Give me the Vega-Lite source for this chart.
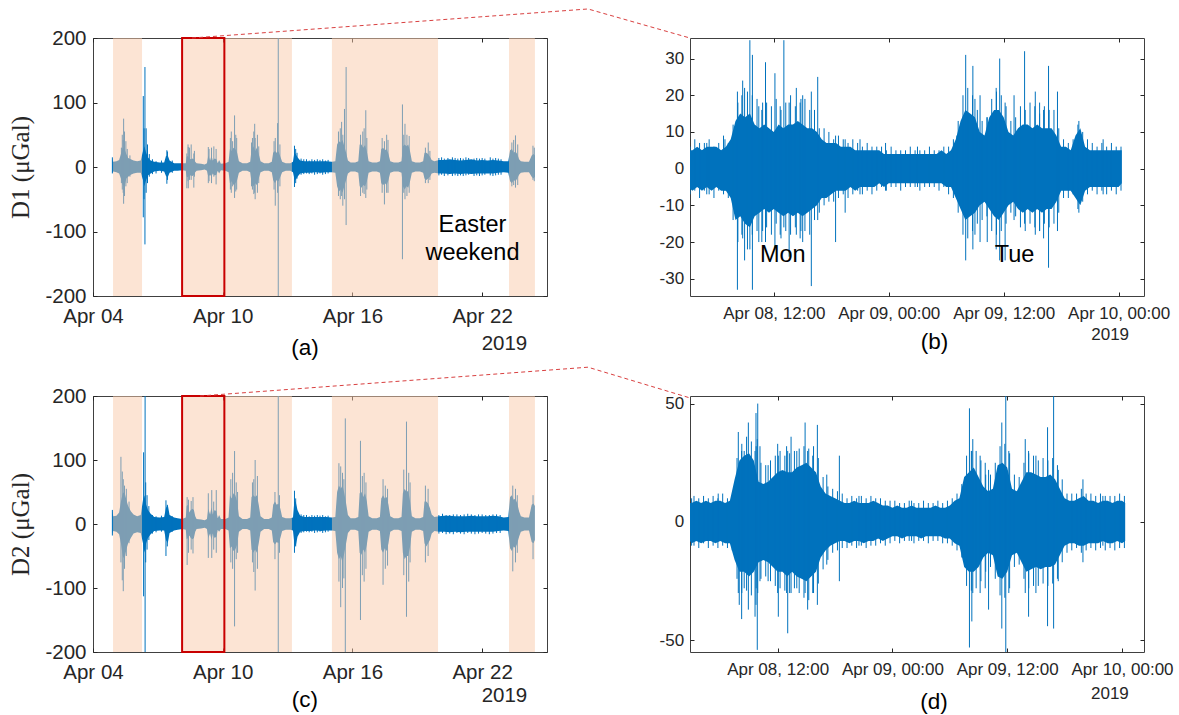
{
"$schema": "https://vega.github.io/schema/vega-lite/v6.json",
"padding": {"left": 8, "top": 6, "right": 5, "bottom": 5},
"background": "white",
"columns": 2,
"spacing": {"row": 100, "column": 143},
"bounds": "flush",
"config": {
  "view": {"stroke": "#404040", "strokeWidth": 1},
  "axis": {"domain": false, "grid": false, "ticks": true, "tickSize": -4, "tickColor": "#262626", "tickWidth": 1, "labelColor": "#262626", "labelFont": "Liberation Sans", "labelFlush": false, "labelOverlap": false, "labelBound": false, "titleColor": "#262626"},
  "text": {"font": "Liberation Sans"}
},
"datasets": {
  "wk": [
    {"t":"2019-04-04T21:20Z","a0":-9,"a1":13,"c0":-16,"c1":21},
    {"t":"2019-04-04T22:30Z","a0":-7,"a1":8,"c0":-11,"c1":12},
    {"t":"2019-04-05T02:00Z","a0":-8,"a1":9,"c0":-12,"c1":13},
    {"t":"2019-04-05T05:00Z","a0":-10,"a1":11,"c0":-16,"c1":18},
    {"t":"2019-04-05T07:00Z","a0":-18,"a1":20,"c0":-30,"c1":35},
    {"t":"2019-04-05T09:00Z","a0":-28,"a1":30,"c0":-50,"c1":48},
    {"t":"2019-04-05T11:00Z","a0":-30,"a1":28,"c0":-55,"c1":50},
    {"t":"2019-04-05T13:00Z","a0":-18,"a1":20,"c0":-40,"c1":38},
    {"t":"2019-04-05T15:00Z","a0":-15,"a1":14,"c0":-30,"c1":28},
    {"t":"2019-04-05T18:00Z","a0":-12,"a1":12,"c0":-22,"c1":20},
    {"t":"2019-04-05T21:00Z","a0":-10,"a1":10,"c0":-15,"c1":15},
    {"t":"2019-04-06T01:00Z","a0":-9,"a1":9,"c0":-13,"c1":12},
    {"t":"2019-04-06T05:00Z","a0":-9,"a1":10,"c0":-14,"c1":14},
    {"t":"2019-04-06T07:30Z","a0":-20,"a1":25,"c0":-30,"c1":38},
    {"t":"2019-04-06T09:00Z","a0":-30,"a1":32,"c0":-45,"c1":45},
    {"t":"2019-04-06T11:00Z","a0":-20,"a1":22,"c0":-30,"c1":30},
    {"t":"2019-04-06T13:00Z","a0":-13,"a1":15,"c0":-22,"c1":22},
    {"t":"2019-04-06T16:00Z","a0":-10,"a1":10,"c0":-16,"c1":16},
    {"t":"2019-04-06T20:00Z","a0":-7,"a1":8,"c0":-11,"c1":11},
    {"t":"2019-04-07T02:00Z","a0":-6,"a1":7,"c0":-10,"c1":10},
    {"t":"2019-04-07T07:00Z","a0":-7,"a1":7,"c0":-10,"c1":11},
    {"t":"2019-04-07T09:00Z","a0":-14,"a1":17,"c0":-25,"c1":25},
    {"t":"2019-04-07T11:00Z","a0":-16,"a1":18,"c0":-30,"c1":30},
    {"t":"2019-04-07T13:00Z","a0":-9,"a1":10,"c0":-14,"c1":14},
    {"t":"2019-04-07T18:00Z","a0":-6,"a1":6,"c0":-10,"c1":10},
    {"t":"2019-04-07T22:00Z","a0":-6,"a1":6,"c0":-9,"c1":9},
    {"t":"2019-04-08T03:00Z","a0":-5,"a1":6,"c0":-8,"c1":8},
    {"t":"2019-04-08T07:00Z","a0":-6,"a1":6,"c0":-9,"c1":10},
    {"t":"2019-04-08T08:00Z","a0":-15,"a1":16,"c0":-24,"c1":28},
    {"t":"2019-04-08T09:30Z","a0":-16,"a1":17,"c0":-22,"c1":30},
    {"t":"2019-04-08T11:00Z","a0":-13,"a1":13,"c0":-18,"c1":18},
    {"t":"2019-04-08T12:30Z","a0":-13,"a1":12,"c0":-22,"c1":22},
    {"t":"2019-04-08T14:30Z","a0":-14,"a1":13,"c0":-24,"c1":24},
    {"t":"2019-04-08T16:00Z","a0":-12,"a1":12,"c0":-22,"c1":22},
    {"t":"2019-04-08T17:30Z","a0":-8,"a1":8,"c0":-12,"c1":12},
    {"t":"2019-04-08T19:00Z","a0":-6,"a1":6,"c0":-8,"c1":8},
    {"t":"2019-04-09T00:00Z","a0":-5,"a1":5,"c0":-7,"c1":7},
    {"t":"2019-04-09T04:00Z","a0":-4,"a1":4,"c0":-6,"c1":6},
    {"t":"2019-04-09T06:30Z","a0":-6,"a1":6,"c0":-8,"c1":8},
    {"t":"2019-04-09T08:00Z","a0":-15,"a1":18,"c0":-22,"c1":24},
    {"t":"2019-04-09T10:00Z","a0":-12,"a1":10,"c0":-15,"c1":15},
    {"t":"2019-04-09T11:30Z","a0":-15,"a1":18,"c0":-25,"c1":26},
    {"t":"2019-04-09T13:00Z","a0":-10,"a1":10,"c0":-15,"c1":15},
    {"t":"2019-04-09T15:00Z","a0":-13,"a1":13,"c0":-22,"c1":22},
    {"t":"2019-04-09T17:00Z","a0":-12,"a1":12,"c0":-20,"c1":20},
    {"t":"2019-04-09T18:30Z","a0":-6,"a1":6,"c0":-9,"c1":9},
    {"t":"2019-04-09T20:00Z","a0":-10,"a1":11,"c0":-12,"c1":14},
    {"t":"2019-04-09T22:00Z","a0":-5,"a1":5,"c0":-8,"c1":8},
    {"t":"2019-04-10T03:00Z","a0":-6,"a1":6,"c0":-8,"c1":8},
    {"t":"2019-04-10T06:30Z","a0":-8,"a1":8,"c0":-10,"c1":10},
    {"t":"2019-04-10T08:00Z","a0":-25,"a1":28,"c0":-38,"c1":45},
    {"t":"2019-04-10T10:00Z","a0":-22,"a1":25,"c0":-35,"c1":40},
    {"t":"2019-04-10T12:00Z","a0":-28,"a1":30,"c0":-42,"c1":48},
    {"t":"2019-04-10T14:00Z","a0":-25,"a1":28,"c0":-40,"c1":45},
    {"t":"2019-04-10T16:00Z","a0":-20,"a1":22,"c0":-32,"c1":35},
    {"t":"2019-04-10T18:00Z","a0":-9,"a1":9,"c0":-12,"c1":12},
    {"t":"2019-04-10T22:00Z","a0":-6,"a1":6,"c0":-8,"c1":8},
    {"t":"2019-04-11T03:00Z","a0":-6,"a1":6,"c0":-8,"c1":8},
    {"t":"2019-04-11T06:30Z","a0":-8,"a1":8,"c0":-10,"c1":10},
    {"t":"2019-04-11T08:00Z","a0":-25,"a1":27,"c0":-40,"c1":42},
    {"t":"2019-04-11T10:00Z","a0":-30,"a1":32,"c0":-45,"c1":45},
    {"t":"2019-04-11T12:00Z","a0":-25,"a1":25,"c0":-40,"c1":42},
    {"t":"2019-04-11T14:00Z","a0":-28,"a1":30,"c0":-45,"c1":45},
    {"t":"2019-04-11T16:00Z","a0":-18,"a1":20,"c0":-30,"c1":30},
    {"t":"2019-04-11T18:00Z","a0":-8,"a1":9,"c0":-12,"c1":12},
    {"t":"2019-04-11T22:00Z","a0":-6,"a1":6,"c0":-8,"c1":8},
    {"t":"2019-04-12T03:00Z","a0":-6,"a1":6,"c0":-8,"c1":8},
    {"t":"2019-04-12T06:30Z","a0":-8,"a1":8,"c0":-10,"c1":10},
    {"t":"2019-04-12T08:00Z","a0":-20,"a1":22,"c0":-28,"c1":30},
    {"t":"2019-04-12T10:00Z","a0":-25,"a1":25,"c0":-32,"c1":35},
    {"t":"2019-04-12T12:00Z","a0":-20,"a1":22,"c0":-28,"c1":30},
    {"t":"2019-04-12T14:00Z","a0":-22,"a1":24,"c0":-30,"c1":32},
    {"t":"2019-04-12T16:00Z","a0":-15,"a1":16,"c0":-22,"c1":24},
    {"t":"2019-04-12T18:00Z","a0":-8,"a1":8,"c0":-11,"c1":11},
    {"t":"2019-04-12T22:00Z","a0":-6,"a1":6,"c0":-9,"c1":9},
    {"t":"2019-04-13T03:00Z","a0":-6,"a1":6,"c0":-9,"c1":9},
    {"t":"2019-04-13T06:00Z","a0":-8,"a1":8,"c0":-10,"c1":10},
    {"t":"2019-04-13T07:30Z","a0":-18,"a1":22,"c0":-30,"c1":35},
    {"t":"2019-04-13T09:00Z","a0":-20,"a1":20,"c0":-35,"c1":35},
    {"t":"2019-04-13T11:00Z","a0":-15,"a1":15,"c0":-20,"c1":22},
    {"t":"2019-04-13T14:00Z","a0":-10,"a1":10,"c0":-12,"c1":13},
    {"t":"2019-04-13T19:00Z","a0":-9,"a1":9,"c0":-11,"c1":11},
    {"t":"2019-04-14T01:00Z","a0":-9,"a1":9,"c0":-11,"c1":11},
    {"t":"2019-04-14T07:00Z","a0":-8,"a1":9,"c0":-10,"c1":11},
    {"t":"2019-04-14T13:00Z","a0":-9,"a1":9,"c0":-11,"c1":11},
    {"t":"2019-04-14T19:00Z","a0":-8,"a1":9,"c0":-10,"c1":11},
    {"t":"2019-04-15T01:00Z","a0":-8,"a1":8,"c0":-10,"c1":10},
    {"t":"2019-04-15T05:00Z","a0":-9,"a1":9,"c0":-11,"c1":11},
    {"t":"2019-04-15T07:00Z","a0":-30,"a1":35,"c0":-45,"c1":50},
    {"t":"2019-04-15T09:00Z","a0":-38,"a1":40,"c0":-55,"c1":60},
    {"t":"2019-04-15T11:00Z","a0":-35,"a1":38,"c0":-50,"c1":55},
    {"t":"2019-04-15T13:00Z","a0":-40,"a1":42,"c0":-60,"c1":60},
    {"t":"2019-04-15T15:00Z","a0":-30,"a1":32,"c0":-45,"c1":48},
    {"t":"2019-04-15T17:00Z","a0":-20,"a1":22,"c0":-30,"c1":32},
    {"t":"2019-04-15T19:00Z","a0":-10,"a1":10,"c0":-14,"c1":14},
    {"t":"2019-04-15T22:00Z","a0":-7,"a1":7,"c0":-9,"c1":9},
    {"t":"2019-04-16T03:00Z","a0":-7,"a1":7,"c0":-9,"c1":9},
    {"t":"2019-04-16T06:30Z","a0":-9,"a1":9,"c0":-11,"c1":11},
    {"t":"2019-04-16T08:00Z","a0":-30,"a1":35,"c0":-45,"c1":48},
    {"t":"2019-04-16T10:00Z","a0":-32,"a1":35,"c0":-48,"c1":50},
    {"t":"2019-04-16T12:00Z","a0":-28,"a1":30,"c0":-40,"c1":42},
    {"t":"2019-04-16T14:00Z","a0":-30,"a1":34,"c0":-45,"c1":48},
    {"t":"2019-04-16T16:00Z","a0":-22,"a1":24,"c0":-32,"c1":35},
    {"t":"2019-04-16T18:00Z","a0":-9,"a1":9,"c0":-12,"c1":12},
    {"t":"2019-04-16T22:00Z","a0":-7,"a1":7,"c0":-9,"c1":9},
    {"t":"2019-04-17T03:00Z","a0":-7,"a1":7,"c0":-9,"c1":9},
    {"t":"2019-04-17T06:30Z","a0":-9,"a1":9,"c0":-11,"c1":11},
    {"t":"2019-04-17T08:00Z","a0":-25,"a1":28,"c0":-40,"c1":40},
    {"t":"2019-04-17T10:00Z","a0":-28,"a1":30,"c0":-45,"c1":45},
    {"t":"2019-04-17T12:00Z","a0":-25,"a1":26,"c0":-38,"c1":40},
    {"t":"2019-04-17T14:00Z","a0":-28,"a1":28,"c0":-42,"c1":42},
    {"t":"2019-04-17T16:00Z","a0":-20,"a1":20,"c0":-30,"c1":30},
    {"t":"2019-04-17T18:00Z","a0":-9,"a1":9,"c0":-12,"c1":12},
    {"t":"2019-04-17T22:00Z","a0":-7,"a1":7,"c0":-9,"c1":9},
    {"t":"2019-04-18T03:00Z","a0":-7,"a1":7,"c0":-9,"c1":9},
    {"t":"2019-04-18T06:30Z","a0":-9,"a1":9,"c0":-11,"c1":11},
    {"t":"2019-04-18T08:00Z","a0":-30,"a1":32,"c0":-45,"c1":48},
    {"t":"2019-04-18T10:00Z","a0":-35,"a1":35,"c0":-55,"c1":55},
    {"t":"2019-04-18T12:00Z","a0":-30,"a1":32,"c0":-50,"c1":50},
    {"t":"2019-04-18T14:00Z","a0":-32,"a1":35,"c0":-50,"c1":52},
    {"t":"2019-04-18T16:00Z","a0":-22,"a1":24,"c0":-35,"c1":35},
    {"t":"2019-04-18T18:00Z","a0":-9,"a1":9,"c0":-12,"c1":12},
    {"t":"2019-04-18T22:00Z","a0":-7,"a1":7,"c0":-9,"c1":9},
    {"t":"2019-04-19T03:00Z","a0":-7,"a1":7,"c0":-9,"c1":9},
    {"t":"2019-04-19T06:30Z","a0":-9,"a1":9,"c0":-11,"c1":11},
    {"t":"2019-04-19T08:00Z","a0":-18,"a1":22,"c0":-30,"c1":35},
    {"t":"2019-04-19T10:00Z","a0":-20,"a1":22,"c0":-35,"c1":35},
    {"t":"2019-04-19T12:00Z","a0":-18,"a1":20,"c0":-30,"c1":32},
    {"t":"2019-04-19T14:00Z","a0":-15,"a1":16,"c0":-25,"c1":25},
    {"t":"2019-04-19T16:00Z","a0":-10,"a1":11,"c0":-15,"c1":15},
    {"t":"2019-04-19T19:00Z","a0":-9,"a1":9,"c0":-11,"c1":11},
    {"t":"2019-04-20T00:00Z","a0":-10,"a1":11,"c0":-12,"c1":12},
    {"t":"2019-04-20T06:00Z","a0":-10,"a1":11,"c0":-12,"c1":13},
    {"t":"2019-04-20T12:00Z","a0":-11,"a1":12,"c0":-13,"c1":13},
    {"t":"2019-04-20T18:00Z","a0":-10,"a1":11,"c0":-12,"c1":12},
    {"t":"2019-04-21T00:00Z","a0":-11,"a1":10,"c0":-13,"c1":12},
    {"t":"2019-04-21T06:00Z","a0":-10,"a1":11,"c0":-12,"c1":12},
    {"t":"2019-04-21T12:00Z","a0":-11,"a1":12,"c0":-12,"c1":13},
    {"t":"2019-04-21T18:00Z","a0":-10,"a1":10,"c0":-12,"c1":12},
    {"t":"2019-04-22T00:00Z","a0":-10,"a1":11,"c0":-12,"c1":12},
    {"t":"2019-04-22T06:00Z","a0":-10,"a1":10,"c0":-12,"c1":12},
    {"t":"2019-04-22T12:00Z","a0":-10,"a1":11,"c0":-12,"c1":13},
    {"t":"2019-04-22T18:00Z","a0":-9,"a1":10,"c0":-11,"c1":12},
    {"t":"2019-04-23T00:00Z","a0":-8,"a1":9,"c0":-10,"c1":10},
    {"t":"2019-04-23T05:00Z","a0":-9,"a1":9,"c0":-11,"c1":11},
    {"t":"2019-04-23T07:00Z","a0":-22,"a1":26,"c0":-38,"c1":42},
    {"t":"2019-04-23T09:00Z","a0":-25,"a1":28,"c0":-42,"c1":45},
    {"t":"2019-04-23T11:00Z","a0":-20,"a1":22,"c0":-35,"c1":38},
    {"t":"2019-04-23T13:00Z","a0":-22,"a1":24,"c0":-38,"c1":40},
    {"t":"2019-04-23T15:00Z","a0":-18,"a1":20,"c0":-30,"c1":32},
    {"t":"2019-04-23T17:00Z","a0":-12,"a1":12,"c0":-20,"c1":20},
    {"t":"2019-04-23T19:00Z","a0":-9,"a1":9,"c0":-12,"c1":12},
    {"t":"2019-04-23T23:00Z","a0":-8,"a1":8,"c0":-10,"c1":10},
    {"t":"2019-04-24T04:00Z","a0":-8,"a1":8,"c0":-10,"c1":10},
    {"t":"2019-04-24T07:00Z","a0":-15,"a1":18,"c0":-28,"c1":30},
    {"t":"2019-04-24T09:00Z","a0":-18,"a1":20,"c0":-30,"c1":32},
    {"t":"2019-04-24T10:30Z","a0":-15,"a1":18,"c0":-25,"c1":28}
  ],
  "sp": [
    {"p":"a","t":"2019-04-04T21:30Z","lo":-10,"hi":15},
    {"p":"a","t":"2019-04-05T07:30Z","lo":-25,"hi":30},
    {"p":"a","t":"2019-04-05T08:30Z","lo":-35,"hi":50},
    {"p":"a","t":"2019-04-05T09:30Z","lo":-40,"hi":42},
    {"p":"a","t":"2019-04-05T10:00Z","lo":-57,"hi":75},
    {"p":"a","t":"2019-04-05T11:00Z","lo":-45,"hi":55},
    {"p":"a","t":"2019-04-05T12:30Z","lo":-30,"hi":40},
    {"p":"a","t":"2019-04-05T14:00Z","lo":-25,"hi":28},
    {"p":"a","t":"2019-04-05T17:00Z","lo":-15,"hi":18},
    {"p":"a","t":"2019-04-06T07:50Z","lo":-78,"hi":110},
    {"p":"a","t":"2019-04-06T08:40Z","lo":-50,"hi":60},
    {"p":"a","t":"2019-04-06T09:40Z","lo":-120,"hi":155},
    {"p":"a","t":"2019-04-06T11:00Z","lo":-40,"hi":60},
    {"p":"a","t":"2019-04-06T12:30Z","lo":-25,"hi":35},
    {"p":"a","t":"2019-04-06T14:30Z","lo":-15,"hi":20},
    {"p":"a","t":"2019-04-06T18:00Z","lo":-11,"hi":12},
    {"p":"a","t":"2019-04-06T22:00Z","lo":-10,"hi":9},
    {"p":"a","t":"2019-04-07T04:00Z","lo":-9,"hi":10},
    {"p":"a","t":"2019-04-07T10:00Z","lo":-26,"hi":26},
    {"p":"a","t":"2019-04-07T10:40Z","lo":-20,"hi":24},
    {"p":"a","t":"2019-04-07T16:00Z","lo":-9,"hi":10},
    {"p":"a","t":"2019-04-08T08:10Z","lo":-33,"hi":21},
    {"p":"a","t":"2019-04-08T09:30Z","lo":-22,"hi":35},
    {"p":"a","t":"2019-04-08T09:45Z","lo":-33,"hi":31},
    {"p":"a","t":"2019-04-08T11:10Z","lo":-20,"hi":30},
    {"p":"a","t":"2019-04-08T13:00Z","lo":-20,"hi":35},
    {"p":"a","t":"2019-04-08T15:55Z","lo":-32,"hi":21},
    {"p":"a","t":"2019-04-08T16:35Z","lo":-15,"hi":25},
    {"p":"a","t":"2019-04-09T08:00Z","lo":-25,"hi":31},
    {"p":"a","t":"2019-04-09T08:50Z","lo":-22,"hi":28},
    {"p":"a","t":"2019-04-09T11:35Z","lo":-25,"hi":30},
    {"p":"a","t":"2019-04-09T14:10Z","lo":-15,"hi":32},
    {"p":"a","t":"2019-04-09T16:40Z","lo":-27,"hi":28},
    {"p":"a","t":"2019-04-10T08:30Z","lo":-35,"hi":45},
    {"p":"a","t":"2019-04-10T09:30Z","lo":-40,"hi":55},
    {"p":"a","t":"2019-04-10T11:00Z","lo":-30,"hi":40},
    {"p":"a","t":"2019-04-10T13:10Z","lo":-48,"hi":80},
    {"p":"a","t":"2019-04-10T14:30Z","lo":-38,"hi":50},
    {"p":"a","t":"2019-04-10T15:30Z","lo":-35,"hi":45},
    {"p":"a","t":"2019-04-11T08:00Z","lo":-30,"hi":38},
    {"p":"a","t":"2019-04-11T09:00Z","lo":-35,"hi":45},
    {"p":"a","t":"2019-04-11T10:30Z","lo":-42,"hi":55},
    {"p":"a","t":"2019-04-11T11:30Z","lo":-40,"hi":67},
    {"p":"a","t":"2019-04-11T12:00Z","lo":-50,"hi":45},
    {"p":"a","t":"2019-04-11T14:30Z","lo":-40,"hi":50},
    {"p":"a","t":"2019-04-11T16:00Z","lo":-25,"hi":32},
    {"p":"a","t":"2019-04-12T09:00Z","lo":-35,"hi":40},
    {"p":"a","t":"2019-04-12T10:20Z","lo":-60,"hi":45},
    {"p":"a","t":"2019-04-12T12:55Z","lo":-40,"hi":68},
    {"p":"a","t":"2019-04-12T13:40Z","lo":-220,"hi":220},
    {"p":"a","t":"2019-04-12T15:30Z","lo":-30,"hi":35},
    {"p":"a","t":"2019-04-13T07:40Z","lo":-31,"hi":33},
    {"p":"a","t":"2019-04-13T09:00Z","lo":-25,"hi":28},
    {"p":"a","t":"2019-04-13T10:30Z","lo":-18,"hi":22},
    {"p":"a","t":"2019-04-13T15:00Z","lo":-12,"hi":13},
    {"p":"a","t":"2019-04-13T18:00Z","lo":-11,"hi":12},
    {"p":"a","t":"2019-04-13T21:00Z","lo":-10,"hi":12},
    {"p":"a","t":"2019-04-14T00:00Z","lo":-11,"hi":10},
    {"p":"a","t":"2019-04-14T03:00Z","lo":-10,"hi":12},
    {"p":"a","t":"2019-04-14T06:00Z","lo":-12,"hi":11},
    {"p":"a","t":"2019-04-14T09:00Z","lo":-11,"hi":12},
    {"p":"a","t":"2019-04-14T12:00Z","lo":-10,"hi":11},
    {"p":"a","t":"2019-04-14T15:00Z","lo":-12,"hi":12},
    {"p":"a","t":"2019-04-14T18:00Z","lo":-11,"hi":10},
    {"p":"a","t":"2019-04-14T21:00Z","lo":-10,"hi":11},
    {"p":"a","t":"2019-04-15T08:30Z","lo":-45,"hi":55},
    {"p":"a","t":"2019-04-15T10:30Z","lo":-50,"hi":60},
    {"p":"a","t":"2019-04-15T12:00Z","lo":-45,"hi":70},
    {"p":"a","t":"2019-04-15T13:20Z","lo":-60,"hi":50},
    {"p":"a","t":"2019-04-15T15:10Z","lo":-50,"hi":90},
    {"p":"a","t":"2019-04-15T17:00Z","lo":-90,"hi":155},
    {"p":"a","t":"2019-04-16T09:00Z","lo":-45,"hi":50},
    {"p":"a","t":"2019-04-16T11:30Z","lo":-40,"hi":55},
    {"p":"a","t":"2019-04-16T13:00Z","lo":-42,"hi":60},
    {"p":"a","t":"2019-04-16T14:50Z","lo":-48,"hi":88},
    {"p":"a","t":"2019-04-16T16:00Z","lo":-35,"hi":45},
    {"p":"a","t":"2019-04-17T09:00Z","lo":-40,"hi":45},
    {"p":"a","t":"2019-04-17T11:30Z","lo":-58,"hi":40},
    {"p":"a","t":"2019-04-17T14:00Z","lo":-40,"hi":50},
    {"p":"a","t":"2019-04-17T15:30Z","lo":-40,"hi":42},
    {"p":"a","t":"2019-04-18T07:30Z","lo":-143,"hi":97},
    {"p":"a","t":"2019-04-18T09:00Z","lo":-40,"hi":50},
    {"p":"a","t":"2019-04-18T10:20Z","lo":-50,"hi":67},
    {"p":"a","t":"2019-04-18T12:30Z","lo":-45,"hi":50},
    {"p":"a","t":"2019-04-18T15:00Z","lo":-40,"hi":48},
    {"p":"a","t":"2019-04-19T09:00Z","lo":-25,"hi":30},
    {"p":"a","t":"2019-04-19T12:10Z","lo":-25,"hi":38},
    {"p":"a","t":"2019-04-19T14:00Z","lo":-20,"hi":25},
    {"p":"a","t":"2019-04-20T00:00Z","lo":-13,"hi":14},
    {"p":"a","t":"2019-04-20T03:00Z","lo":-12,"hi":15},
    {"p":"a","t":"2019-04-20T06:00Z","lo":-14,"hi":13},
    {"p":"a","t":"2019-04-20T10:00Z","lo":-13,"hi":14},
    {"p":"a","t":"2019-04-20T15:00Z","lo":-14,"hi":15},
    {"p":"a","t":"2019-04-20T18:00Z","lo":-13,"hi":14},
    {"p":"a","t":"2019-04-20T21:00Z","lo":-14,"hi":13},
    {"p":"a","t":"2019-04-21T00:00Z","lo":-13,"hi":14},
    {"p":"a","t":"2019-04-21T03:00Z","lo":-14,"hi":13},
    {"p":"a","t":"2019-04-21T06:00Z","lo":-13,"hi":15},
    {"p":"a","t":"2019-04-21T09:00Z","lo":-12,"hi":14},
    {"p":"a","t":"2019-04-21T15:00Z","lo":-14,"hi":13},
    {"p":"a","t":"2019-04-21T18:00Z","lo":-13,"hi":14},
    {"p":"a","t":"2019-04-21T21:00Z","lo":-14,"hi":13},
    {"p":"a","t":"2019-04-22T00:00Z","lo":-13,"hi":14},
    {"p":"a","t":"2019-04-22T03:00Z","lo":-12,"hi":13},
    {"p":"a","t":"2019-04-22T09:00Z","lo":-13,"hi":15},
    {"p":"a","t":"2019-04-22T12:00Z","lo":-14,"hi":13},
    {"p":"a","t":"2019-04-22T15:00Z","lo":-13,"hi":14},
    {"p":"a","t":"2019-04-22T18:00Z","lo":-12,"hi":13},
    {"p":"a","t":"2019-04-22T21:00Z","lo":-12,"hi":12},
    {"p":"a","t":"2019-04-23T09:00Z","lo":-30,"hi":38},
    {"p":"a","t":"2019-04-23T11:00Z","lo":-28,"hi":42},
    {"p":"a","t":"2019-04-23T13:00Z","lo":-32,"hi":49},
    {"p":"a","t":"2019-04-23T15:30Z","lo":-28,"hi":35},
    {"p":"a","t":"2019-04-24T08:25Z","lo":-20,"hi":33},
    {"p":"a","t":"2019-04-24T09:50Z","lo":-22,"hi":30},
    {"p":"c","t":"2019-04-04T21:30Z","lo":-18,"hi":22},
    {"p":"c","t":"2019-04-05T07:00Z","lo":-60,"hi":105},
    {"p":"c","t":"2019-04-05T08:30Z","lo":-88,"hi":82},
    {"p":"c","t":"2019-04-05T09:35Z","lo":-105,"hi":70},
    {"p":"c","t":"2019-04-05T11:00Z","lo":-70,"hi":60},
    {"p":"c","t":"2019-04-05T13:00Z","lo":-50,"hi":55},
    {"p":"c","t":"2019-04-05T16:00Z","lo":-30,"hi":35},
    {"p":"c","t":"2019-04-06T08:10Z","lo":-113,"hi":112},
    {"p":"c","t":"2019-04-06T09:50Z","lo":-220,"hi":220},
    {"p":"c","t":"2019-04-06T10:30Z","lo":-60,"hi":65},
    {"p":"c","t":"2019-04-06T12:00Z","lo":-40,"hi":45},
    {"p":"c","t":"2019-04-06T14:00Z","lo":-25,"hi":28},
    {"p":"c","t":"2019-04-06T18:00Z","lo":-15,"hi":14},
    {"p":"c","t":"2019-04-06T22:00Z","lo":-13,"hi":12},
    {"p":"c","t":"2019-04-07T04:00Z","lo":-12,"hi":13},
    {"p":"c","t":"2019-04-07T09:00Z","lo":-50,"hi":37},
    {"p":"c","t":"2019-04-07T10:30Z","lo":-35,"hi":30},
    {"p":"c","t":"2019-04-07T16:00Z","lo":-12,"hi":12},
    {"p":"c","t":"2019-04-08T08:30Z","lo":-64,"hi":42},
    {"p":"c","t":"2019-04-08T10:00Z","lo":-45,"hi":38},
    {"p":"c","t":"2019-04-08T13:00Z","lo":-40,"hi":36},
    {"p":"c","t":"2019-04-08T15:00Z","lo":-46,"hi":42},
    {"p":"c","t":"2019-04-09T08:00Z","lo":-53,"hi":48},
    {"p":"c","t":"2019-04-09T11:50Z","lo":-53,"hi":53},
    {"p":"c","t":"2019-04-09T14:00Z","lo":-40,"hi":35},
    {"p":"c","t":"2019-04-09T16:50Z","lo":-45,"hi":53},
    {"p":"c","t":"2019-04-10T09:00Z","lo":-60,"hi":70},
    {"p":"c","t":"2019-04-10T11:00Z","lo":-70,"hi":80},
    {"p":"c","t":"2019-04-10T13:10Z","lo":-160,"hi":114},
    {"p":"c","t":"2019-04-10T15:00Z","lo":-55,"hi":65},
    {"p":"c","t":"2019-04-10T16:30Z","lo":-45,"hi":50},
    {"p":"c","t":"2019-04-11T09:00Z","lo":-60,"hi":65},
    {"p":"c","t":"2019-04-11T10:30Z","lo":-75,"hi":70},
    {"p":"c","t":"2019-04-11T12:00Z","lo":-104,"hi":100},
    {"p":"c","t":"2019-04-11T14:30Z","lo":-70,"hi":75},
    {"p":"c","t":"2019-04-12T10:00Z","lo":-55,"hi":50},
    {"p":"c","t":"2019-04-12T13:40Z","lo":-220,"hi":220},
    {"p":"c","t":"2019-04-12T15:00Z","lo":-45,"hi":45},
    {"p":"c","t":"2019-04-13T07:40Z","lo":-45,"hi":52},
    {"p":"c","t":"2019-04-13T09:00Z","lo":-35,"hi":40},
    {"p":"c","t":"2019-04-13T15:00Z","lo":-14,"hi":15},
    {"p":"c","t":"2019-04-13T18:00Z","lo":-13,"hi":14},
    {"p":"c","t":"2019-04-13T21:00Z","lo":-12,"hi":14},
    {"p":"c","t":"2019-04-14T00:00Z","lo":-13,"hi":12},
    {"p":"c","t":"2019-04-14T03:00Z","lo":-12,"hi":14},
    {"p":"c","t":"2019-04-14T06:00Z","lo":-14,"hi":13},
    {"p":"c","t":"2019-04-14T09:00Z","lo":-13,"hi":14},
    {"p":"c","t":"2019-04-14T12:00Z","lo":-12,"hi":13},
    {"p":"c","t":"2019-04-14T15:00Z","lo":-14,"hi":14},
    {"p":"c","t":"2019-04-14T18:00Z","lo":-13,"hi":12},
    {"p":"c","t":"2019-04-14T21:00Z","lo":-12,"hi":13},
    {"p":"c","t":"2019-04-15T09:00Z","lo":-90,"hi":95},
    {"p":"c","t":"2019-04-15T11:00Z","lo":-130,"hi":90},
    {"p":"c","t":"2019-04-15T13:00Z","lo":-100,"hi":80},
    {"p":"c","t":"2019-04-15T14:30Z","lo":-85,"hi":70},
    {"p":"c","t":"2019-04-15T16:05Z","lo":-220,"hi":165},
    {"p":"c","t":"2019-04-16T08:55Z","lo":-150,"hi":130},
    {"p":"c","t":"2019-04-16T11:00Z","lo":-80,"hi":75},
    {"p":"c","t":"2019-04-16T13:00Z","lo":-90,"hi":80},
    {"p":"c","t":"2019-04-16T15:00Z","lo":-70,"hi":65},
    {"p":"c","t":"2019-04-17T10:00Z","lo":-95,"hi":70},
    {"p":"c","t":"2019-04-17T12:30Z","lo":-70,"hi":60},
    {"p":"c","t":"2019-04-17T15:00Z","lo":-65,"hi":55},
    {"p":"c","t":"2019-04-18T09:00Z","lo":-80,"hi":85},
    {"p":"c","t":"2019-04-18T12:00Z","lo":-145,"hi":160},
    {"p":"c","t":"2019-04-18T14:30Z","lo":-90,"hi":80},
    {"p":"c","t":"2019-04-18T16:00Z","lo":-60,"hi":65},
    {"p":"c","t":"2019-04-19T09:00Z","lo":-60,"hi":60},
    {"p":"c","t":"2019-04-19T12:00Z","lo":-50,"hi":55},
    {"p":"c","t":"2019-04-20T00:00Z","lo":-15,"hi":14},
    {"p":"c","t":"2019-04-20T04:00Z","lo":-14,"hi":16},
    {"p":"c","t":"2019-04-20T08:00Z","lo":-16,"hi":14},
    {"p":"c","t":"2019-04-20T12:00Z","lo":-15,"hi":14},
    {"p":"c","t":"2019-04-20T16:00Z","lo":-16,"hi":15},
    {"p":"c","t":"2019-04-20T20:00Z","lo":-14,"hi":15},
    {"p":"c","t":"2019-04-21T00:00Z","lo":-15,"hi":14},
    {"p":"c","t":"2019-04-21T04:00Z","lo":-16,"hi":15},
    {"p":"c","t":"2019-04-21T08:00Z","lo":-14,"hi":16},
    {"p":"c","t":"2019-04-21T12:00Z","lo":-15,"hi":15},
    {"p":"c","t":"2019-04-21T16:00Z","lo":-16,"hi":14},
    {"p":"c","t":"2019-04-21T20:00Z","lo":-15,"hi":15},
    {"p":"c","t":"2019-04-22T00:00Z","lo":-14,"hi":15},
    {"p":"c","t":"2019-04-22T04:00Z","lo":-15,"hi":14},
    {"p":"c","t":"2019-04-22T08:00Z","lo":-16,"hi":14},
    {"p":"c","t":"2019-04-22T12:00Z","lo":-15,"hi":15},
    {"p":"c","t":"2019-04-22T16:00Z","lo":-14,"hi":15},
    {"p":"c","t":"2019-04-22T20:00Z","lo":-14,"hi":14},
    {"p":"c","t":"2019-04-23T10:00Z","lo":-74,"hi":60},
    {"p":"c","t":"2019-04-23T13:00Z","lo":-60,"hi":55},
    {"p":"c","t":"2019-04-23T15:00Z","lo":-45,"hi":45},
    {"p":"c","t":"2019-04-24T08:30Z","lo":-55,"hi":45},
    {"p":"b","t":"2019-04-08T05:00Z","lo":-7,"hi":7},
    {"p":"b","t":"2019-04-08T06:54Z","lo":-6,"hi":8},
    {"p":"b","t":"2019-04-08T08:12Z","lo":-33,"hi":21},
    {"p":"b","t":"2019-04-08T08:40Z","lo":-18,"hi":20},
    {"p":"b","t":"2019-04-08T08:57Z","lo":-25,"hi":22},
    {"p":"b","t":"2019-04-08T09:30Z","lo":-22,"hi":35},
    {"p":"b","t":"2019-04-08T09:46Z","lo":-33,"hi":31},
    {"p":"b","t":"2019-04-08T10:26Z","lo":-20,"hi":17},
    {"p":"b","t":"2019-04-08T10:50Z","lo":-17,"hi":18},
    {"p":"b","t":"2019-04-08T11:08Z","lo":-20,"hi":29},
    {"p":"b","t":"2019-04-08T12:07Z","lo":-22,"hi":26},
    {"p":"b","t":"2019-04-08T12:40Z","lo":-18,"hi":17},
    {"p":"b","t":"2019-04-08T13:03Z","lo":-16,"hi":35},
    {"p":"b","t":"2019-04-08T13:36Z","lo":-24,"hi":18},
    {"p":"b","t":"2019-04-08T14:21Z","lo":-18,"hi":22},
    {"p":"b","t":"2019-04-08T14:50Z","lo":-17,"hi":19},
    {"p":"b","t":"2019-04-08T15:01Z","lo":-20,"hi":20},
    {"p":"b","t":"2019-04-08T15:55Z","lo":-32,"hi":21},
    {"p":"b","t":"2019-04-08T16:35Z","lo":-14,"hi":25},
    {"p":"b","t":"2019-04-08T18:27Z","lo":-20,"hi":9},
    {"p":"b","t":"2019-04-08T19:27Z","lo":-12,"hi":8},
    {"p":"b","t":"2019-04-08T21:00Z","lo":-7,"hi":8},
    {"p":"b","t":"2019-04-08T23:40Z","lo":-6,"hi":7},
    {"p":"b","t":"2019-04-09T03:00Z","lo":-5,"hi":6},
    {"p":"b","t":"2019-04-09T07:07Z","lo":-7,"hi":9},
    {"p":"b","t":"2019-04-09T08:02Z","lo":-25,"hi":31},
    {"p":"b","t":"2019-04-09T08:47Z","lo":-22,"hi":28},
    {"p":"b","t":"2019-04-09T09:00Z","lo":-18,"hi":19},
    {"p":"b","t":"2019-04-09T09:32Z","lo":-20,"hi":20},
    {"p":"b","t":"2019-04-09T10:17Z","lo":-20,"hi":14},
    {"p":"b","t":"2019-04-09T11:13Z","lo":-22,"hi":22},
    {"p":"b","t":"2019-04-09T11:35Z","lo":-25,"hi":30},
    {"p":"b","t":"2019-04-09T12:09Z","lo":-25,"hi":18},
    {"p":"b","t":"2019-04-09T13:05Z","lo":-14,"hi":20},
    {"p":"b","t":"2019-04-09T14:11Z","lo":-15,"hi":32},
    {"p":"b","t":"2019-04-09T15:18Z","lo":-18,"hi":21},
    {"p":"b","t":"2019-04-09T15:45Z","lo":-17,"hi":18},
    {"p":"b","t":"2019-04-09T16:10Z","lo":-19,"hi":16},
    {"p":"b","t":"2019-04-09T16:41Z","lo":-27,"hi":28},
    {"p":"b","t":"2019-04-09T17:37Z","lo":-17,"hi":21},
    {"p":"b","t":"2019-04-09T19:51Z","lo":-12,"hi":13},
    {"p":"b","t":"2019-04-09T22:23Z","lo":-7,"hi":8},
    {"p":"b","t":"2019-04-08T03:15Z","lo":-7,"hi":6},
    {"p":"b","t":"2019-04-08T03:45Z","lo":-6,"hi":8},
    {"p":"b","t":"2019-04-08T04:15Z","lo":-8,"hi":7},
    {"p":"b","t":"2019-04-08T04:45Z","lo":-6,"hi":7},
    {"p":"b","t":"2019-04-08T05:15Z","lo":-7,"hi":8},
    {"p":"b","t":"2019-04-08T05:45Z","lo":-8,"hi":6},
    {"p":"b","t":"2019-04-08T06:15Z","lo":-6,"hi":7},
    {"p":"b","t":"2019-04-08T06:45Z","lo":-7,"hi":9},
    {"p":"b","t":"2019-04-08T07:15Z","lo":-8,"hi":7},
    {"p":"b","t":"2019-04-08T07:45Z","lo":-14,"hi":12},
    {"p":"b","t":"2019-04-08T08:15Z","lo":-20,"hi":18},
    {"p":"b","t":"2019-04-08T08:45Z","lo":-19,"hi":24},
    {"p":"b","t":"2019-04-08T09:15Z","lo":-22,"hi":21},
    {"p":"b","t":"2019-04-08T09:45Z","lo":-18,"hi":20},
    {"p":"b","t":"2019-04-08T10:15Z","lo":-17,"hi":19},
    {"p":"b","t":"2019-04-08T10:45Z","lo":-20,"hi":16},
    {"p":"b","t":"2019-04-08T11:15Z","lo":-16,"hi":18},
    {"p":"b","t":"2019-04-08T11:45Z","lo":-18,"hi":17},
    {"p":"b","t":"2019-04-08T12:15Z","lo":-15,"hi":19},
    {"p":"b","t":"2019-04-08T12:45Z","lo":-19,"hi":16},
    {"p":"b","t":"2019-04-08T13:15Z","lo":-17,"hi":18},
    {"p":"b","t":"2019-04-08T13:45Z","lo":-18,"hi":20},
    {"p":"b","t":"2019-04-08T14:15Z","lo":-16,"hi":17},
    {"p":"b","t":"2019-04-08T14:45Z","lo":-19,"hi":18},
    {"p":"b","t":"2019-04-08T15:15Z","lo":-17,"hi":19},
    {"p":"b","t":"2019-04-08T15:45Z","lo":-18,"hi":16},
    {"p":"b","t":"2019-04-08T16:15Z","lo":-14,"hi":16},
    {"p":"b","t":"2019-04-08T16:45Z","lo":-12,"hi":11},
    {"p":"b","t":"2019-04-08T17:15Z","lo":-10,"hi":11},
    {"p":"b","t":"2019-04-08T17:45Z","lo":-9,"hi":10},
    {"p":"b","t":"2019-04-08T18:15Z","lo":-9,"hi":8},
    {"p":"b","t":"2019-04-08T18:45Z","lo":-8,"hi":9},
    {"p":"b","t":"2019-04-08T19:15Z","lo":-7,"hi":8},
    {"p":"b","t":"2019-04-08T19:45Z","lo":-8,"hi":7},
    {"p":"b","t":"2019-04-08T20:15Z","lo":-7,"hi":8},
    {"p":"b","t":"2019-04-08T20:45Z","lo":-6,"hi":7},
    {"p":"b","t":"2019-04-08T21:15Z","lo":-7,"hi":6},
    {"p":"b","t":"2019-04-08T21:45Z","lo":-6,"hi":7},
    {"p":"b","t":"2019-04-08T22:15Z","lo":-7,"hi":6},
    {"p":"b","t":"2019-04-08T22:45Z","lo":-6,"hi":6},
    {"p":"b","t":"2019-04-08T23:15Z","lo":-5,"hi":6},
    {"p":"b","t":"2019-04-08T23:45Z","lo":-6,"hi":5},
    {"p":"b","t":"2019-04-09T00:15Z","lo":-5,"hi":6},
    {"p":"b","t":"2019-04-09T00:45Z","lo":-5,"hi":5},
    {"p":"b","t":"2019-04-09T01:15Z","lo":-6,"hi":5},
    {"p":"b","t":"2019-04-09T01:45Z","lo":-5,"hi":5},
    {"p":"b","t":"2019-04-09T02:15Z","lo":-5,"hi":6},
    {"p":"b","t":"2019-04-09T02:45Z","lo":-5,"hi":5},
    {"p":"b","t":"2019-04-09T03:15Z","lo":-6,"hi":5},
    {"p":"b","t":"2019-04-09T03:45Z","lo":-5,"hi":5},
    {"p":"b","t":"2019-04-09T04:15Z","lo":-5,"hi":6},
    {"p":"b","t":"2019-04-09T04:45Z","lo":-5,"hi":5},
    {"p":"b","t":"2019-04-09T05:15Z","lo":-6,"hi":5},
    {"p":"b","t":"2019-04-09T05:45Z","lo":-5,"hi":6},
    {"p":"b","t":"2019-04-09T06:15Z","lo":-7,"hi":6},
    {"p":"b","t":"2019-04-09T06:45Z","lo":-8,"hi":8},
    {"p":"b","t":"2019-04-09T07:15Z","lo":-12,"hi":13},
    {"p":"b","t":"2019-04-09T07:45Z","lo":-18,"hi":20},
    {"p":"b","t":"2019-04-09T08:15Z","lo":-19,"hi":22},
    {"p":"b","t":"2019-04-09T08:45Z","lo":-17,"hi":20},
    {"p":"b","t":"2019-04-09T09:15Z","lo":-15,"hi":16},
    {"p":"b","t":"2019-04-09T09:45Z","lo":-14,"hi":13},
    {"p":"b","t":"2019-04-09T10:15Z","lo":-13,"hi":14},
    {"p":"b","t":"2019-04-09T10:45Z","lo":-17,"hi":19},
    {"p":"b","t":"2019-04-09T11:15Z","lo":-18,"hi":21},
    {"p":"b","t":"2019-04-09T11:45Z","lo":-17,"hi":20},
    {"p":"b","t":"2019-04-09T12:15Z","lo":-15,"hi":17},
    {"p":"b","t":"2019-04-09T12:45Z","lo":-12,"hi":13},
    {"p":"b","t":"2019-04-09T13:15Z","lo":-13,"hi":14},
    {"p":"b","t":"2019-04-09T13:45Z","lo":-16,"hi":17},
    {"p":"b","t":"2019-04-09T14:15Z","lo":-17,"hi":16},
    {"p":"b","t":"2019-04-09T14:45Z","lo":-15,"hi":18},
    {"p":"b","t":"2019-04-09T15:15Z","lo":-16,"hi":17},
    {"p":"b","t":"2019-04-09T15:45Z","lo":-17,"hi":15},
    {"p":"b","t":"2019-04-09T16:15Z","lo":-15,"hi":17},
    {"p":"b","t":"2019-04-09T16:45Z","lo":-16,"hi":16},
    {"p":"b","t":"2019-04-09T17:15Z","lo":-15,"hi":16},
    {"p":"b","t":"2019-04-09T17:45Z","lo":-12,"hi":11},
    {"p":"b","t":"2019-04-09T18:15Z","lo":-8,"hi":8},
    {"p":"b","t":"2019-04-09T18:45Z","lo":-8,"hi":7},
    {"p":"b","t":"2019-04-09T19:15Z","lo":-7,"hi":8},
    {"p":"b","t":"2019-04-09T19:45Z","lo":-11,"hi":12},
    {"p":"b","t":"2019-04-09T20:15Z","lo":-9,"hi":10},
    {"p":"b","t":"2019-04-09T20:45Z","lo":-7,"hi":8},
    {"p":"b","t":"2019-04-09T21:15Z","lo":-6,"hi":7},
    {"p":"b","t":"2019-04-09T21:45Z","lo":-7,"hi":6},
    {"p":"b","t":"2019-04-09T22:15Z","lo":-6,"hi":7},
    {"p":"b","t":"2019-04-09T22:45Z","lo":-7,"hi":6},
    {"p":"b","t":"2019-04-09T23:15Z","lo":-6,"hi":7},
    {"p":"b","t":"2019-04-09T23:45Z","lo":-7,"hi":6},
    {"p":"b","t":"2019-04-10T00:15Z","lo":-6,"hi":6},
    {"p":"d","t":"2019-04-08T03:00Z","lo":-10,"hi":10},
    {"p":"d","t":"2019-04-08T05:47Z","lo":-8,"hi":12},
    {"p":"d","t":"2019-04-08T07:53Z","lo":-30,"hi":38},
    {"p":"d","t":"2019-04-08T07:59Z","lo":-35,"hi":25},
    {"p":"d","t":"2019-04-08T08:14Z","lo":-41,"hi":30},
    {"p":"d","t":"2019-04-08T08:30Z","lo":-28,"hi":30},
    {"p":"d","t":"2019-04-08T08:56Z","lo":-37,"hi":42},
    {"p":"d","t":"2019-04-08T09:38Z","lo":-40,"hi":30},
    {"p":"d","t":"2019-04-08T09:44Z","lo":-35,"hi":46},
    {"p":"d","t":"2019-04-08T09:52Z","lo":-54,"hi":35},
    {"p":"d","t":"2019-04-08T09:55Z","lo":-30,"hi":50},
    {"p":"d","t":"2019-04-08T10:09Z","lo":-25,"hi":32},
    {"p":"d","t":"2019-04-08T11:00Z","lo":-25,"hi":24},
    {"p":"d","t":"2019-04-08T12:00Z","lo":-30,"hi":33},
    {"p":"d","t":"2019-04-08T12:04Z","lo":-40,"hi":28},
    {"p":"d","t":"2019-04-08T12:56Z","lo":-30,"hi":32},
    {"p":"d","t":"2019-04-08T13:03Z","lo":-47,"hi":30},
    {"p":"d","t":"2019-04-08T13:24Z","lo":-30,"hi":36},
    {"p":"d","t":"2019-04-08T14:00Z","lo":-28,"hi":30},
    {"p":"d","t":"2019-04-08T14:52Z","lo":-30,"hi":42},
    {"p":"d","t":"2019-04-08T15:08Z","lo":-37,"hi":30},
    {"p":"d","t":"2019-04-08T15:40Z","lo":-30,"hi":28},
    {"p":"d","t":"2019-04-08T16:09Z","lo":-35,"hi":41},
    {"p":"d","t":"2019-04-08T17:08Z","lo":-18,"hi":20},
    {"p":"d","t":"2019-04-08T18:27Z","lo":-25,"hi":28},
    {"p":"d","t":"2019-04-08T20:30Z","lo":-10,"hi":11},
    {"p":"d","t":"2019-04-09T02:00Z","lo":-8,"hi":9},
    {"p":"d","t":"2019-04-09T08:03Z","lo":-53,"hi":48},
    {"p":"d","t":"2019-04-09T08:18Z","lo":-42,"hi":30},
    {"p":"d","t":"2019-04-09T08:24Z","lo":-30,"hi":35},
    {"p":"d","t":"2019-04-09T09:10Z","lo":-30,"hi":28},
    {"p":"d","t":"2019-04-09T09:42Z","lo":-28,"hi":25},
    {"p":"d","t":"2019-04-09T10:03Z","lo":-37,"hi":22},
    {"p":"d","t":"2019-04-09T11:26Z","lo":-45,"hi":42},
    {"p":"d","t":"2019-04-09T11:51Z","lo":-55,"hi":56},
    {"p":"d","t":"2019-04-09T12:10Z","lo":-30,"hi":30},
    {"p":"d","t":"2019-04-09T13:53Z","lo":-30,"hi":35},
    {"p":"d","t":"2019-04-09T14:14Z","lo":-40,"hi":30},
    {"p":"d","t":"2019-04-09T15:00Z","lo":-30,"hi":28},
    {"p":"d","t":"2019-04-09T16:13Z","lo":-44,"hi":40},
    {"p":"d","t":"2019-04-09T16:51Z","lo":-45,"hi":56},
    {"p":"d","t":"2019-04-09T17:20Z","lo":-25,"hi":22},
    {"p":"d","t":"2019-04-09T19:55Z","lo":-17,"hi":18},
    {"p":"d","t":"2019-04-09T22:00Z","lo":-10,"hi":11},
    {"p":"d","t":"2019-04-08T03:15Z","lo":-10,"hi":11},
    {"p":"d","t":"2019-04-08T03:45Z","lo":-11,"hi":10},
    {"p":"d","t":"2019-04-08T04:15Z","lo":-9,"hi":11},
    {"p":"d","t":"2019-04-08T04:45Z","lo":-11,"hi":10},
    {"p":"d","t":"2019-04-08T05:15Z","lo":-10,"hi":11},
    {"p":"d","t":"2019-04-08T05:45Z","lo":-11,"hi":10},
    {"p":"d","t":"2019-04-08T06:15Z","lo":-10,"hi":12},
    {"p":"d","t":"2019-04-08T06:45Z","lo":-11,"hi":10},
    {"p":"d","t":"2019-04-08T07:15Z","lo":-12,"hi":11},
    {"p":"d","t":"2019-04-08T07:45Z","lo":-24,"hi":27},
    {"p":"d","t":"2019-04-08T08:15Z","lo":-30,"hi":33},
    {"p":"d","t":"2019-04-08T08:45Z","lo":-29,"hi":36},
    {"p":"d","t":"2019-04-08T09:15Z","lo":-31,"hi":34},
    {"p":"d","t":"2019-04-08T09:45Z","lo":-28,"hi":32},
    {"p":"d","t":"2019-04-08T10:15Z","lo":-24,"hi":25},
    {"p":"d","t":"2019-04-08T10:45Z","lo":-23,"hi":24},
    {"p":"d","t":"2019-04-08T11:15Z","lo":-25,"hi":26},
    {"p":"d","t":"2019-04-08T11:45Z","lo":-27,"hi":28},
    {"p":"d","t":"2019-04-08T12:15Z","lo":-28,"hi":30},
    {"p":"d","t":"2019-04-08T12:45Z","lo":-29,"hi":28},
    {"p":"d","t":"2019-04-08T13:15Z","lo":-30,"hi":29},
    {"p":"d","t":"2019-04-08T13:45Z","lo":-28,"hi":30},
    {"p":"d","t":"2019-04-08T14:15Z","lo":-30,"hi":31},
    {"p":"d","t":"2019-04-08T14:45Z","lo":-32,"hi":32},
    {"p":"d","t":"2019-04-08T15:15Z","lo":-33,"hi":31},
    {"p":"d","t":"2019-04-08T15:45Z","lo":-30,"hi":32},
    {"p":"d","t":"2019-04-08T16:15Z","lo":-26,"hi":27},
    {"p":"d","t":"2019-04-08T16:45Z","lo":-20,"hi":19},
    {"p":"d","t":"2019-04-08T17:15Z","lo":-16,"hi":15},
    {"p":"d","t":"2019-04-08T17:45Z","lo":-13,"hi":14},
    {"p":"d","t":"2019-04-08T18:15Z","lo":-12,"hi":13},
    {"p":"d","t":"2019-04-08T18:45Z","lo":-11,"hi":12},
    {"p":"d","t":"2019-04-08T19:15Z","lo":-11,"hi":10},
    {"p":"d","t":"2019-04-08T19:45Z","lo":-10,"hi":11},
    {"p":"d","t":"2019-04-08T20:15Z","lo":-11,"hi":10},
    {"p":"d","t":"2019-04-08T20:45Z","lo":-10,"hi":11},
    {"p":"d","t":"2019-04-08T21:15Z","lo":-11,"hi":10},
    {"p":"d","t":"2019-04-08T21:45Z","lo":-10,"hi":11},
    {"p":"d","t":"2019-04-08T22:15Z","lo":-10,"hi":10},
    {"p":"d","t":"2019-04-08T22:45Z","lo":-9,"hi":10},
    {"p":"d","t":"2019-04-08T23:15Z","lo":-10,"hi":9},
    {"p":"d","t":"2019-04-08T23:45Z","lo":-9,"hi":9},
    {"p":"d","t":"2019-04-09T00:15Z","lo":-8,"hi":9},
    {"p":"d","t":"2019-04-09T00:45Z","lo":-9,"hi":8},
    {"p":"d","t":"2019-04-09T01:15Z","lo":-8,"hi":8},
    {"p":"d","t":"2019-04-09T01:45Z","lo":-8,"hi":9},
    {"p":"d","t":"2019-04-09T02:15Z","lo":-9,"hi":8},
    {"p":"d","t":"2019-04-09T02:45Z","lo":-8,"hi":8},
    {"p":"d","t":"2019-04-09T03:15Z","lo":-8,"hi":9},
    {"p":"d","t":"2019-04-09T03:45Z","lo":-9,"hi":8},
    {"p":"d","t":"2019-04-09T04:15Z","lo":-8,"hi":8},
    {"p":"d","t":"2019-04-09T04:45Z","lo":-8,"hi":9},
    {"p":"d","t":"2019-04-09T05:15Z","lo":-9,"hi":8},
    {"p":"d","t":"2019-04-09T05:45Z","lo":-9,"hi":9},
    {"p":"d","t":"2019-04-09T06:15Z","lo":-10,"hi":10},
    {"p":"d","t":"2019-04-09T06:45Z","lo":-12,"hi":12},
    {"p":"d","t":"2019-04-09T07:15Z","lo":-15,"hi":16},
    {"p":"d","t":"2019-04-09T07:45Z","lo":-27,"hi":28},
    {"p":"d","t":"2019-04-09T08:15Z","lo":-29,"hi":30},
    {"p":"d","t":"2019-04-09T08:45Z","lo":-28,"hi":30},
    {"p":"d","t":"2019-04-09T09:15Z","lo":-25,"hi":26},
    {"p":"d","t":"2019-04-09T09:45Z","lo":-21,"hi":20},
    {"p":"d","t":"2019-04-09T10:15Z","lo":-19,"hi":20},
    {"p":"d","t":"2019-04-09T10:45Z","lo":-24,"hi":25},
    {"p":"d","t":"2019-04-09T11:15Z","lo":-31,"hi":32},
    {"p":"d","t":"2019-04-09T11:45Z","lo":-32,"hi":33},
    {"p":"d","t":"2019-04-09T12:15Z","lo":-28,"hi":29},
    {"p":"d","t":"2019-04-09T12:45Z","lo":-19,"hi":20},
    {"p":"d","t":"2019-04-09T13:15Z","lo":-18,"hi":19},
    {"p":"d","t":"2019-04-09T13:45Z","lo":-24,"hi":25},
    {"p":"d","t":"2019-04-09T14:15Z","lo":-28,"hi":29},
    {"p":"d","t":"2019-04-09T14:45Z","lo":-27,"hi":28},
    {"p":"d","t":"2019-04-09T15:15Z","lo":-27,"hi":26},
    {"p":"d","t":"2019-04-09T15:45Z","lo":-26,"hi":27},
    {"p":"d","t":"2019-04-09T16:15Z","lo":-27,"hi":26},
    {"p":"d","t":"2019-04-09T16:45Z","lo":-26,"hi":27},
    {"p":"d","t":"2019-04-09T17:15Z","lo":-24,"hi":24},
    {"p":"d","t":"2019-04-09T17:45Z","lo":-17,"hi":18},
    {"p":"d","t":"2019-04-09T18:15Z","lo":-13,"hi":12},
    {"p":"d","t":"2019-04-09T18:45Z","lo":-12,"hi":12},
    {"p":"d","t":"2019-04-09T19:15Z","lo":-11,"hi":12},
    {"p":"d","t":"2019-04-09T19:45Z","lo":-13,"hi":14},
    {"p":"d","t":"2019-04-09T20:15Z","lo":-12,"hi":12},
    {"p":"d","t":"2019-04-09T20:45Z","lo":-11,"hi":12},
    {"p":"d","t":"2019-04-09T21:15Z","lo":-12,"hi":11},
    {"p":"d","t":"2019-04-09T21:45Z","lo":-11,"hi":12},
    {"p":"d","t":"2019-04-09T22:15Z","lo":-12,"hi":11},
    {"p":"d","t":"2019-04-09T22:45Z","lo":-11,"hi":11},
    {"p":"d","t":"2019-04-09T23:15Z","lo":-12,"hi":11},
    {"p":"d","t":"2019-04-09T23:45Z","lo":-11,"hi":12},
    {"p":"d","t":"2019-04-10T00:15Z","lo":-11,"hi":11}
  ],
  "zm": [
    {"t":"2019-04-08T02:50Z","b0":-5,"b1":5,"d0":-8,"d1":8},
    {"t":"2019-04-08T03:00Z","b0":-5,"b1":5,"d0":-9,"d1":8},
    {"t":"2019-04-08T03:30Z","b0":-6,"b1":5,"d0":-8,"d1":9},
    {"t":"2019-04-08T04:00Z","b0":-5,"b1":6,"d0":-9,"d1":8},
    {"t":"2019-04-08T04:30Z","b0":-6,"b1":5,"d0":-8,"d1":9},
    {"t":"2019-04-08T05:00Z","b0":-5,"b1":6,"d0":-8,"d1":8},
    {"t":"2019-04-08T05:30Z","b0":-6,"b1":6,"d0":-9,"d1":9},
    {"t":"2019-04-08T06:00Z","b0":-5,"b1":6,"d0":-8,"d1":9},
    {"t":"2019-04-08T06:30Z","b0":-6,"b1":5,"d0":-9,"d1":8},
    {"t":"2019-04-08T07:00Z","b0":-6,"b1":6,"d0":-9,"d1":9},
    {"t":"2019-04-08T07:30Z","b0":-8,"b1":8,"d0":-16,"d1":18},
    {"t":"2019-04-08T08:00Z","b0":-14,"b1":13,"d0":-21,"d1":26},
    {"t":"2019-04-08T08:30Z","b0":-13,"b1":15,"d0":-21,"d1":28},
    {"t":"2019-04-08T09:00Z","b0":-15,"b1":14,"d0":-23,"d1":29},
    {"t":"2019-04-08T09:30Z","b0":-16,"b1":15,"d0":-21,"d1":26},
    {"t":"2019-04-08T10:00Z","b0":-13,"b1":12,"d0":-17,"d1":17},
    {"t":"2019-04-08T10:30Z","b0":-12,"b1":11,"d0":-16,"d1":16},
    {"t":"2019-04-08T11:00Z","b0":-11,"b1":12,"d0":-17,"d1":17},
    {"t":"2019-04-08T11:30Z","b0":-12,"b1":11,"d0":-19,"d1":19},
    {"t":"2019-04-08T12:00Z","b0":-11,"b1":10,"d0":-21,"d1":21},
    {"t":"2019-04-08T12:30Z","b0":-12,"b1":12,"d0":-21,"d1":22},
    {"t":"2019-04-08T13:00Z","b0":-13,"b1":11,"d0":-23,"d1":21},
    {"t":"2019-04-08T13:30Z","b0":-12,"b1":12,"d0":-21,"d1":21},
    {"t":"2019-04-08T14:00Z","b0":-13,"b1":12,"d0":-23,"d1":23},
    {"t":"2019-04-08T14:30Z","b0":-12,"b1":13,"d0":-24,"d1":24},
    {"t":"2019-04-08T15:00Z","b0":-13,"b1":12,"d0":-25,"d1":25},
    {"t":"2019-04-08T15:30Z","b0":-12,"b1":11,"d0":-23,"d1":23},
    {"t":"2019-04-08T16:00Z","b0":-11,"b1":11,"d0":-21,"d1":21},
    {"t":"2019-04-08T16:30Z","b0":-10,"b1":10,"d0":-15,"d1":15},
    {"t":"2019-04-08T17:00Z","b0":-8,"b1":8,"d0":-12,"d1":12},
    {"t":"2019-04-08T17:30Z","b0":-8,"b1":7,"d0":-10,"d1":11},
    {"t":"2019-04-08T18:00Z","b0":-7,"b1":7,"d0":-9,"d1":10},
    {"t":"2019-04-08T18:30Z","b0":-6,"b1":7,"d0":-8,"d1":9},
    {"t":"2019-04-08T19:00Z","b0":-6,"b1":6,"d0":-8,"d1":8},
    {"t":"2019-04-08T19:30Z","b0":-6,"b1":6,"d0":-9,"d1":8},
    {"t":"2019-04-08T20:00Z","b0":-5,"b1":6,"d0":-8,"d1":9},
    {"t":"2019-04-08T20:30Z","b0":-6,"b1":5,"d0":-8,"d1":8},
    {"t":"2019-04-08T21:00Z","b0":-5,"b1":5,"d0":-9,"d1":8},
    {"t":"2019-04-08T21:30Z","b0":-5,"b1":5,"d0":-8,"d1":8},
    {"t":"2019-04-08T22:00Z","b0":-5,"b1":5,"d0":-8,"d1":9},
    {"t":"2019-04-08T22:30Z","b0":-5,"b1":5,"d0":-7,"d1":8},
    {"t":"2019-04-08T23:00Z","b0":-4,"b1":5,"d0":-8,"d1":7},
    {"t":"2019-04-08T23:30Z","b0":-5,"b1":4,"d0":-7,"d1":7},
    {"t":"2019-04-09T00:00Z","b0":-4,"b1":4,"d0":-6,"d1":6},
    {"t":"2019-04-09T00:30Z","b0":-4,"b1":4,"d0":-6,"d1":7},
    {"t":"2019-04-09T01:00Z","b0":-4,"b1":4,"d0":-7,"d1":6},
    {"t":"2019-04-09T01:30Z","b0":-4,"b1":4,"d0":-6,"d1":6},
    {"t":"2019-04-09T02:00Z","b0":-4,"b1":4,"d0":-6,"d1":7},
    {"t":"2019-04-09T02:30Z","b0":-4,"b1":4,"d0":-6,"d1":6},
    {"t":"2019-04-09T03:00Z","b0":-4,"b1":4,"d0":-7,"d1":6},
    {"t":"2019-04-09T03:30Z","b0":-4,"b1":4,"d0":-6,"d1":6},
    {"t":"2019-04-09T04:00Z","b0":-4,"b1":4,"d0":-6,"d1":6},
    {"t":"2019-04-09T04:30Z","b0":-4,"b1":4,"d0":-6,"d1":7},
    {"t":"2019-04-09T05:00Z","b0":-4,"b1":4,"d0":-6,"d1":6},
    {"t":"2019-04-09T05:30Z","b0":-4,"b1":5,"d0":-7,"d1":6},
    {"t":"2019-04-09T06:00Z","b0":-5,"b1":4,"d0":-7,"d1":7},
    {"t":"2019-04-09T06:30Z","b0":-5,"b1":5,"d0":-9,"d1":9},
    {"t":"2019-04-09T07:00Z","b0":-8,"b1":8,"d0":-10,"d1":10},
    {"t":"2019-04-09T07:30Z","b0":-11,"b1":13,"d0":-19,"d1":19},
    {"t":"2019-04-09T08:00Z","b0":-14,"b1":16,"d0":-21,"d1":21},
    {"t":"2019-04-09T08:30Z","b0":-13,"b1":15,"d0":-21,"d1":23},
    {"t":"2019-04-09T09:00Z","b0":-12,"b1":14,"d0":-19,"d1":19},
    {"t":"2019-04-09T09:30Z","b0":-10,"b1":10,"d0":-15,"d1":15},
    {"t":"2019-04-09T10:00Z","b0":-9,"b1":9,"d0":-13,"d1":13},
    {"t":"2019-04-09T10:30Z","b0":-11,"b1":14,"d0":-14,"d1":14},
    {"t":"2019-04-09T11:00Z","b0":-13,"b1":16,"d0":-23,"d1":24},
    {"t":"2019-04-09T11:30Z","b0":-14,"b1":16,"d0":-24,"d1":25},
    {"t":"2019-04-09T12:00Z","b0":-12,"b1":14,"d0":-21,"d1":23},
    {"t":"2019-04-09T12:30Z","b0":-10,"b1":10,"d0":-14,"d1":14},
    {"t":"2019-04-09T13:00Z","b0":-9,"b1":9,"d0":-13,"d1":13},
    {"t":"2019-04-09T13:30Z","b0":-11,"b1":11,"d0":-17,"d1":17},
    {"t":"2019-04-09T14:00Z","b0":-12,"b1":12,"d0":-21,"d1":21},
    {"t":"2019-04-09T14:30Z","b0":-11,"b1":12,"d0":-20,"d1":21},
    {"t":"2019-04-09T15:00Z","b0":-12,"b1":11,"d0":-19,"d1":20},
    {"t":"2019-04-09T15:30Z","b0":-11,"b1":12,"d0":-20,"d1":19},
    {"t":"2019-04-09T16:00Z","b0":-12,"b1":11,"d0":-19,"d1":19},
    {"t":"2019-04-09T16:30Z","b0":-11,"b1":11,"d0":-19,"d1":20},
    {"t":"2019-04-09T17:00Z","b0":-11,"b1":11,"d0":-18,"d1":18},
    {"t":"2019-04-09T17:30Z","b0":-9,"b1":9,"d0":-14,"d1":14},
    {"t":"2019-04-09T18:00Z","b0":-6,"b1":6,"d0":-10,"d1":10},
    {"t":"2019-04-09T18:30Z","b0":-6,"b1":6,"d0":-9,"d1":9},
    {"t":"2019-04-09T19:00Z","b0":-6,"b1":5,"d0":-9,"d1":9},
    {"t":"2019-04-09T19:30Z","b0":-8,"b1":9,"d0":-10,"d1":10},
    {"t":"2019-04-09T20:00Z","b0":-10,"b1":11,"d0":-10,"d1":11},
    {"t":"2019-04-09T20:30Z","b0":-6,"b1":6,"d0":-9,"d1":9},
    {"t":"2019-04-09T21:00Z","b0":-5,"b1":5,"d0":-9,"d1":9},
    {"t":"2019-04-09T21:30Z","b0":-5,"b1":5,"d0":-9,"d1":8},
    {"t":"2019-04-09T22:00Z","b0":-5,"b1":5,"d0":-8,"d1":9},
    {"t":"2019-04-09T22:30Z","b0":-5,"b1":5,"d0":-9,"d1":9},
    {"t":"2019-04-09T23:00Z","b0":-5,"b1":5,"d0":-9,"d1":8},
    {"t":"2019-04-09T23:30Z","b0":-5,"b1":5,"d0":-8,"d1":9},
    {"t":"2019-04-10T00:00Z","b0":-5,"b1":5,"d0":-9,"d1":9},
    {"t":"2019-04-10T00:20Z","b0":-4,"b1":5,"d0":-8,"d1":8}
  ],
  "shade": [
    {"s":"2019-04-04T22:15Z","e":"2019-04-06T06:25Z"},
    {"s":"2019-04-08T02:50Z","e":"2019-04-13T04:50Z"},
    {"s":"2019-04-15T01:15Z","e":"2019-04-19T23:00Z"},
    {"s":"2019-04-23T05:50Z","e":"2019-04-24T10:35Z"}
  ],
  "box": [{"s":"2019-04-08T02:55Z","e":"2019-04-10T01:50Z"}],
  "conn": [
    {"p":"a","i":0,"t":"2019-04-08T13:55Z","v":200},
    {"p":"a","i":1,"t":"2019-04-26T21:30Z","v":245},
    {"p":"a","i":2,"t":"2019-05-01T14:40Z","v":200},
    {"p":"c","i":0,"t":"2019-04-08T22:50Z","v":200},
    {"p":"c","i":1,"t":"2019-04-26T21:30Z","v":245},
    {"p":"c","i":2,"t":"2019-05-01T14:40Z","v":197}
  ],
  "txt": [
    {"p":"a","k":"note","t":"2019-04-21T13:15Z","v":-90,"s":"Easter"},
    {"p":"a","k":"note","t":"2019-04-21T13:15Z","v":-133,"s":"weekend"},
    {"p":"a","k":"year","t":"2019-04-23T00:45Z","v":-274,"s":"2019"},
    {"p":"a","k":"cap","t":"2019-04-13T19:20Z","v":-281,"s":"(a)"},
    {"p":"c","k":"year","t":"2019-04-23T00:45Z","v":-268,"s":"2019"},
    {"p":"c","k":"cap","t":"2019-04-13T19:20Z","v":-275,"s":"(c)"},
    {"p":"b","k":"note","t":"2019-04-08T12:56Z","v":-23.6,"s":"Mon"},
    {"p":"b","k":"note","t":"2019-04-09T13:08Z","v":-23.6,"s":"Tue"},
    {"p":"b","k":"year","t":"2019-04-09T23:07Z","v":-45.3,"s":"2019"},
    {"p":"b","k":"cap","t":"2019-04-09T04:47Z","v":-47.2,"s":"(b)"},
    {"p":"d","k":"year","t":"2019-04-09T22:44Z","v":-72.6,"s":"2019"},
    {"p":"d","k":"cap","t":"2019-04-09T04:20Z","v":-76,"s":"(d)"}
  ]
},
"concat": [
  {
    "width": 454, "height": 258,
    "resolve": {"axis": {"x": "independent", "y": "independent"}},
    "layer": [
      {"data": {"name": "wk"}, "mark": {"type": "area", "color": "#0072BD", "clip": true},
       "encoding": {
         "x": {"field": "t", "type": "temporal", "scale": {"type": "utc", "nice": false, "domain": [{"year":2019,"month":4,"date":4,"utc":true},{"year":2019,"month":4,"date":25,"utc":true}]},
               "axis": {"values": [{"year":2019,"month":4,"date":4,"utc":true},{"year":2019,"month":4,"date":10,"utc":true},{"year":2019,"month":4,"date":16,"utc":true},{"year":2019,"month":4,"date":22,"utc":true}], "labelExpr": "utcFormat(datum.value, '%b %d')", "title": null, "labelFontSize": 20.5, "labelPadding": 14.8}},
         "y": {"field": "a0", "type": "quantitative", "scale": {"domain": [-200, 200], "nice": false, "zero": false},
               "axis": {"values": [-200, -100, 0, 100, 200], "labelExpr": "'' + datum.value", "title": "D1 (μGal)", "titleFont": "Liberation Serif", "titleFontSize": 25, "titleFontWeight": "normal", "titlePadding": 11, "labelFontSize": 20.5, "labelPadding": 11}},
         "y2": {"field": "a1"}}},
      {"data": {"name": "sp"}, "transform": [{"filter": "datum.p == 'a'"}],
       "mark": {"type": "rule", "color": "#0072BD", "strokeWidth": 1, "clip": true},
       "encoding": {
         "x": {"field": "t", "type": "temporal", "scale": {"type": "utc", "nice": false, "domain": [{"year":2019,"month":4,"date":4,"utc":true},{"year":2019,"month":4,"date":25,"utc":true}]},
               "axis": {"orient": "top", "values": [{"year":2019,"month":4,"date":4,"utc":true},{"year":2019,"month":4,"date":10,"utc":true},{"year":2019,"month":4,"date":16,"utc":true},{"year":2019,"month":4,"date":22,"utc":true}], "labels": false, "title": null}},
         "y": {"field": "lo", "type": "quantitative", "scale": {"domain": [-200, 200], "nice": false, "zero": false},
               "axis": {"orient": "right", "values": [-200, -100, 0, 100, 200], "labels": false, "title": null}},
         "y2": {"field": "hi"}}},
      {"data": {"name": "shade"}, "mark": {"type": "rect", "color": "#f9c9a9", "opacity": 0.5},
       "encoding": {
         "x": {"field": "s", "type": "temporal", "scale": {"type": "utc", "nice": false, "domain": [{"year":2019,"month":4,"date":4,"utc":true},{"year":2019,"month":4,"date":25,"utc":true}]}, "axis": null},
         "x2": {"field": "e"}}},
      {"data": {"name": "box"}, "mark": {"type": "rect", "filled": false, "color": "#c80000", "strokeWidth": 2},
       "encoding": {
         "x": {"field": "s", "type": "temporal", "scale": {"type": "utc", "nice": false, "domain": [{"year":2019,"month":4,"date":4,"utc":true},{"year":2019,"month":4,"date":25,"utc":true}]}, "axis": null},
         "x2": {"field": "e"}}},
      {"data": {"name": "conn"}, "transform": [{"filter": "datum.p == 'a'"}],
       "mark": {"type": "line", "color": "#d94040", "strokeWidth": 1, "strokeDash": [4, 3], "clip": false},
       "encoding": {
         "x": {"field": "t", "type": "temporal", "scale": {"type": "utc", "nice": false, "domain": [{"year":2019,"month":4,"date":4,"utc":true},{"year":2019,"month":4,"date":25,"utc":true}]}, "axis": null},
         "y": {"field": "v", "type": "quantitative", "scale": {"domain": [-200, 200], "nice": false, "zero": false}, "axis": null},
         "order": {"field": "i"}}},
      {"data": {"name": "txt"}, "transform": [{"filter": "datum.p == 'a' && datum.k == 'note'"}],
       "mark": {"type": "text", "fontSize": 23.5, "color": "#000000", "align": "center", "baseline": "middle", "clip": false},
       "encoding": {
         "x": {"field": "t", "type": "temporal", "scale": {"type": "utc", "nice": false, "domain": [{"year":2019,"month":4,"date":4,"utc":true},{"year":2019,"month":4,"date":25,"utc":true}]}, "axis": null},
         "y": {"field": "v", "type": "quantitative", "scale": {"domain": [-200, 200], "nice": false, "zero": false}, "axis": null},
         "text": {"field": "s"}}},
      {"data": {"name": "txt"}, "transform": [{"filter": "datum.p == 'a' && datum.k == 'year'"}],
       "mark": {"type": "text", "fontSize": 20.5, "color": "#262626", "align": "center", "baseline": "middle", "clip": false},
       "encoding": {
         "x": {"field": "t", "type": "temporal", "scale": {"type": "utc", "nice": false, "domain": [{"year":2019,"month":4,"date":4,"utc":true},{"year":2019,"month":4,"date":25,"utc":true}]}, "axis": null},
         "y": {"field": "v", "type": "quantitative", "scale": {"domain": [-200, 200], "nice": false, "zero": false}, "axis": null},
         "text": {"field": "s"}}},
      {"data": {"name": "txt"}, "transform": [{"filter": "datum.p == 'a' && datum.k == 'cap'"}],
       "mark": {"type": "text", "fontSize": 22.5, "color": "#000000", "align": "center", "baseline": "middle", "clip": false},
       "encoding": {
         "x": {"field": "t", "type": "temporal", "scale": {"type": "utc", "nice": false, "domain": [{"year":2019,"month":4,"date":4,"utc":true},{"year":2019,"month":4,"date":25,"utc":true}]}, "axis": null},
         "y": {"field": "v", "type": "quantitative", "scale": {"domain": [-200, 200], "nice": false, "zero": false}, "axis": null},
         "text": {"field": "s"}}}
    ]
  },
  {
    "width": 454, "height": 258,
    "resolve": {"axis": {"x": "independent", "y": "independent"}},
    "layer": [
      {"data": {"name": "zm"}, "mark": {"type": "area", "color": "#0072BD", "clip": true},
       "encoding": {
         "x": {"field": "t", "type": "temporal", "scale": {"type": "utc", "nice": false, "domain": [{"year":2019,"month":4,"date":8,"hours":3,"minutes":15,"utc":true},{"year":2019,"month":4,"date":10,"hours":2,"minutes":39,"utc":true}]},
               "axis": {"values": [{"year":2019,"month":4,"date":8,"hours":12,"utc":true},{"year":2019,"month":4,"date":9,"utc":true},{"year":2019,"month":4,"date":9,"hours":12,"utc":true},{"year":2019,"month":4,"date":10,"utc":true}], "labelExpr": "utcFormat(datum.value, '%b %d, %H:%M')", "title": null, "labelFontSize": 17, "labelPadding": 13}},
         "y": {"field": "b0", "type": "quantitative", "scale": {"domain": [-34.7, 35.6], "nice": false, "zero": false},
               "axis": {"values": [-30, -20, -10, 0, 10, 20, 30], "labelExpr": "'' + datum.value", "title": null, "labelFontSize": 17, "labelPadding": 10.3}},
         "y2": {"field": "b1"}}},
      {"data": {"name": "sp"}, "transform": [{"filter": "datum.p == 'b'"}],
       "mark": {"type": "rule", "color": "#0072BD", "strokeWidth": 1, "clip": true},
       "encoding": {
         "x": {"field": "t", "type": "temporal", "scale": {"type": "utc", "nice": false, "domain": [{"year":2019,"month":4,"date":8,"hours":3,"minutes":15,"utc":true},{"year":2019,"month":4,"date":10,"hours":2,"minutes":39,"utc":true}]},
               "axis": {"orient": "top", "values": [{"year":2019,"month":4,"date":8,"hours":12,"utc":true},{"year":2019,"month":4,"date":9,"utc":true},{"year":2019,"month":4,"date":9,"hours":12,"utc":true},{"year":2019,"month":4,"date":10,"utc":true}], "labels": false, "title": null}},
         "y": {"field": "lo", "type": "quantitative", "scale": {"domain": [-34.7, 35.6], "nice": false, "zero": false},
               "axis": {"orient": "right", "values": [-30, -20, -10, 0, 10, 20, 30], "labels": false, "title": null}},
         "y2": {"field": "hi"}}},
      {"data": {"name": "txt"}, "transform": [{"filter": "datum.p == 'b' && datum.k == 'note'"}],
       "mark": {"type": "text", "fontSize": 23.5, "color": "#000000", "align": "center", "baseline": "middle", "clip": false},
       "encoding": {
         "x": {"field": "t", "type": "temporal", "scale": {"type": "utc", "nice": false, "domain": [{"year":2019,"month":4,"date":8,"hours":3,"minutes":15,"utc":true},{"year":2019,"month":4,"date":10,"hours":2,"minutes":39,"utc":true}]}, "axis": null},
         "y": {"field": "v", "type": "quantitative", "scale": {"domain": [-34.7, 35.6], "nice": false, "zero": false}, "axis": null},
         "text": {"field": "s"}}},
      {"data": {"name": "txt"}, "transform": [{"filter": "datum.p == 'b' && datum.k == 'year'"}],
       "mark": {"type": "text", "fontSize": 17, "color": "#262626", "align": "center", "baseline": "middle", "clip": false},
       "encoding": {
         "x": {"field": "t", "type": "temporal", "scale": {"type": "utc", "nice": false, "domain": [{"year":2019,"month":4,"date":8,"hours":3,"minutes":15,"utc":true},{"year":2019,"month":4,"date":10,"hours":2,"minutes":39,"utc":true}]}, "axis": null},
         "y": {"field": "v", "type": "quantitative", "scale": {"domain": [-34.7, 35.6], "nice": false, "zero": false}, "axis": null},
         "text": {"field": "s"}}},
      {"data": {"name": "txt"}, "transform": [{"filter": "datum.p == 'b' && datum.k == 'cap'"}],
       "mark": {"type": "text", "fontSize": 22.5, "color": "#000000", "align": "center", "baseline": "middle", "clip": false},
       "encoding": {
         "x": {"field": "t", "type": "temporal", "scale": {"type": "utc", "nice": false, "domain": [{"year":2019,"month":4,"date":8,"hours":3,"minutes":15,"utc":true},{"year":2019,"month":4,"date":10,"hours":2,"minutes":39,"utc":true}]}, "axis": null},
         "y": {"field": "v", "type": "quantitative", "scale": {"domain": [-34.7, 35.6], "nice": false, "zero": false}, "axis": null},
         "text": {"field": "s"}}}
    ]
  },
  {
    "width": 454, "height": 256,
    "resolve": {"axis": {"x": "independent", "y": "independent"}},
    "layer": [
      {"data": {"name": "wk"}, "mark": {"type": "area", "color": "#0072BD", "clip": true},
       "encoding": {
         "x": {"field": "t", "type": "temporal", "scale": {"type": "utc", "nice": false, "domain": [{"year":2019,"month":4,"date":4,"utc":true},{"year":2019,"month":4,"date":25,"utc":true}]},
               "axis": {"values": [{"year":2019,"month":4,"date":4,"utc":true},{"year":2019,"month":4,"date":10,"utc":true},{"year":2019,"month":4,"date":16,"utc":true},{"year":2019,"month":4,"date":22,"utc":true}], "labelExpr": "utcFormat(datum.value, '%b %d')", "title": null, "labelFontSize": 20.5, "labelPadding": 14.8}},
         "y": {"field": "c0", "type": "quantitative", "scale": {"domain": [-200, 200], "nice": false, "zero": false},
               "axis": {"values": [-200, -100, 0, 100, 200], "labelExpr": "'' + datum.value", "title": "D2 (μGal)", "titleFont": "Liberation Serif", "titleFontSize": 25, "titleFontWeight": "normal", "titlePadding": 11, "labelFontSize": 20.5, "labelPadding": 11}},
         "y2": {"field": "c1"}}},
      {"data": {"name": "sp"}, "transform": [{"filter": "datum.p == 'c'"}],
       "mark": {"type": "rule", "color": "#0072BD", "strokeWidth": 1, "clip": true},
       "encoding": {
         "x": {"field": "t", "type": "temporal", "scale": {"type": "utc", "nice": false, "domain": [{"year":2019,"month":4,"date":4,"utc":true},{"year":2019,"month":4,"date":25,"utc":true}]},
               "axis": {"orient": "top", "values": [{"year":2019,"month":4,"date":4,"utc":true},{"year":2019,"month":4,"date":10,"utc":true},{"year":2019,"month":4,"date":16,"utc":true},{"year":2019,"month":4,"date":22,"utc":true}], "labels": false, "title": null}},
         "y": {"field": "lo", "type": "quantitative", "scale": {"domain": [-200, 200], "nice": false, "zero": false},
               "axis": {"orient": "right", "values": [-200, -100, 0, 100, 200], "labels": false, "title": null}},
         "y2": {"field": "hi"}}},
      {"data": {"name": "shade"}, "mark": {"type": "rect", "color": "#f9c9a9", "opacity": 0.5},
       "encoding": {
         "x": {"field": "s", "type": "temporal", "scale": {"type": "utc", "nice": false, "domain": [{"year":2019,"month":4,"date":4,"utc":true},{"year":2019,"month":4,"date":25,"utc":true}]}, "axis": null},
         "x2": {"field": "e"}}},
      {"data": {"name": "box"}, "mark": {"type": "rect", "filled": false, "color": "#c80000", "strokeWidth": 2},
       "encoding": {
         "x": {"field": "s", "type": "temporal", "scale": {"type": "utc", "nice": false, "domain": [{"year":2019,"month":4,"date":4,"utc":true},{"year":2019,"month":4,"date":25,"utc":true}]}, "axis": null},
         "x2": {"field": "e"}}},
      {"data": {"name": "conn"}, "transform": [{"filter": "datum.p == 'c'"}],
       "mark": {"type": "line", "color": "#d94040", "strokeWidth": 1, "strokeDash": [4, 3], "clip": false},
       "encoding": {
         "x": {"field": "t", "type": "temporal", "scale": {"type": "utc", "nice": false, "domain": [{"year":2019,"month":4,"date":4,"utc":true},{"year":2019,"month":4,"date":25,"utc":true}]}, "axis": null},
         "y": {"field": "v", "type": "quantitative", "scale": {"domain": [-200, 200], "nice": false, "zero": false}, "axis": null},
         "order": {"field": "i"}}},
      {"data": {"name": "txt"}, "transform": [{"filter": "datum.p == 'c' && datum.k == 'year'"}],
       "mark": {"type": "text", "fontSize": 20.5, "color": "#262626", "align": "center", "baseline": "middle", "clip": false},
       "encoding": {
         "x": {"field": "t", "type": "temporal", "scale": {"type": "utc", "nice": false, "domain": [{"year":2019,"month":4,"date":4,"utc":true},{"year":2019,"month":4,"date":25,"utc":true}]}, "axis": null},
         "y": {"field": "v", "type": "quantitative", "scale": {"domain": [-200, 200], "nice": false, "zero": false}, "axis": null},
         "text": {"field": "s"}}},
      {"data": {"name": "txt"}, "transform": [{"filter": "datum.p == 'c' && datum.k == 'cap'"}],
       "mark": {"type": "text", "fontSize": 22.5, "color": "#000000", "align": "center", "baseline": "middle", "clip": false},
       "encoding": {
         "x": {"field": "t", "type": "temporal", "scale": {"type": "utc", "nice": false, "domain": [{"year":2019,"month":4,"date":4,"utc":true},{"year":2019,"month":4,"date":25,"utc":true}]}, "axis": null},
         "y": {"field": "v", "type": "quantitative", "scale": {"domain": [-200, 200], "nice": false, "zero": false}, "axis": null},
         "text": {"field": "s"}}}
    ]
  },
  {
    "width": 454, "height": 256,
    "resolve": {"axis": {"x": "independent", "y": "independent"}},
    "layer": [
      {"data": {"name": "zm"}, "mark": {"type": "area", "color": "#0072BD", "clip": true},
       "encoding": {
         "x": {"field": "t", "type": "temporal", "scale": {"type": "utc", "nice": false, "domain": [{"year":2019,"month":4,"date":8,"hours":2,"minutes":50,"utc":true},{"year":2019,"month":4,"date":10,"hours":2,"minutes":18,"utc":true}]},
               "axis": {"values": [{"year":2019,"month":4,"date":8,"hours":12,"utc":true},{"year":2019,"month":4,"date":9,"utc":true},{"year":2019,"month":4,"date":9,"hours":12,"utc":true},{"year":2019,"month":4,"date":10,"utc":true}], "labelExpr": "utcFormat(datum.value, '%b %d, %H:%M')", "title": null, "labelFontSize": 17, "labelPadding": 13}},
         "y": {"field": "d0", "type": "quantitative", "scale": {"domain": [-54.9, 53.2], "nice": false, "zero": false},
               "axis": {"values": [-50, 0, 50], "labelExpr": "'' + datum.value", "title": null, "labelFontSize": 17, "labelPadding": 10.3}},
         "y2": {"field": "d1"}}},
      {"data": {"name": "sp"}, "transform": [{"filter": "datum.p == 'd'"}],
       "mark": {"type": "rule", "color": "#0072BD", "strokeWidth": 1, "clip": true},
       "encoding": {
         "x": {"field": "t", "type": "temporal", "scale": {"type": "utc", "nice": false, "domain": [{"year":2019,"month":4,"date":8,"hours":2,"minutes":50,"utc":true},{"year":2019,"month":4,"date":10,"hours":2,"minutes":18,"utc":true}]},
               "axis": {"orient": "top", "values": [{"year":2019,"month":4,"date":8,"hours":12,"utc":true},{"year":2019,"month":4,"date":9,"utc":true},{"year":2019,"month":4,"date":9,"hours":12,"utc":true},{"year":2019,"month":4,"date":10,"utc":true}], "labels": false, "title": null}},
         "y": {"field": "lo", "type": "quantitative", "scale": {"domain": [-54.9, 53.2], "nice": false, "zero": false},
               "axis": {"orient": "right", "values": [-50, 0, 50], "labels": false, "title": null}},
         "y2": {"field": "hi"}}},
      {"data": {"name": "txt"}, "transform": [{"filter": "datum.p == 'd' && datum.k == 'year'"}],
       "mark": {"type": "text", "fontSize": 17, "color": "#262626", "align": "center", "baseline": "middle", "clip": false},
       "encoding": {
         "x": {"field": "t", "type": "temporal", "scale": {"type": "utc", "nice": false, "domain": [{"year":2019,"month":4,"date":8,"hours":2,"minutes":50,"utc":true},{"year":2019,"month":4,"date":10,"hours":2,"minutes":18,"utc":true}]}, "axis": null},
         "y": {"field": "v", "type": "quantitative", "scale": {"domain": [-54.9, 53.2], "nice": false, "zero": false}, "axis": null},
         "text": {"field": "s"}}},
      {"data": {"name": "txt"}, "transform": [{"filter": "datum.p == 'd' && datum.k == 'cap'"}],
       "mark": {"type": "text", "fontSize": 22.5, "color": "#000000", "align": "center", "baseline": "middle", "clip": false},
       "encoding": {
         "x": {"field": "t", "type": "temporal", "scale": {"type": "utc", "nice": false, "domain": [{"year":2019,"month":4,"date":8,"hours":2,"minutes":50,"utc":true},{"year":2019,"month":4,"date":10,"hours":2,"minutes":18,"utc":true}]}, "axis": null},
         "y": {"field": "v", "type": "quantitative", "scale": {"domain": [-54.9, 53.2], "nice": false, "zero": false}, "axis": null},
         "text": {"field": "s"}}}
    ]
  }
]
}
